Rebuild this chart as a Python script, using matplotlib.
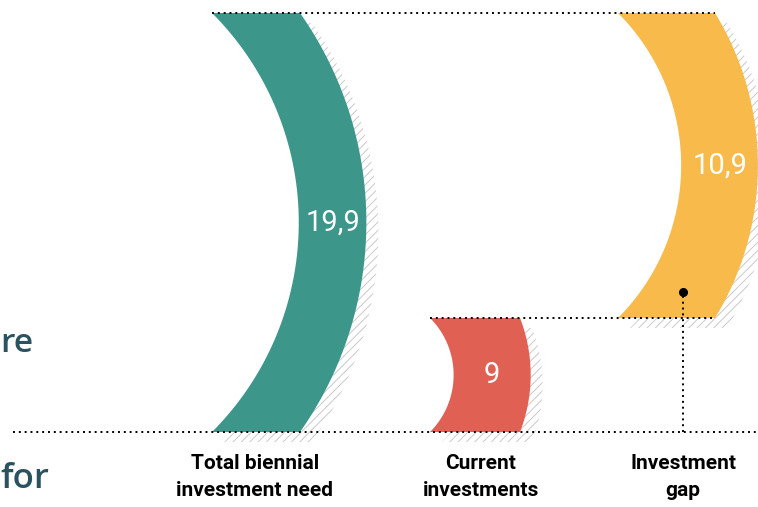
import numpy as np
import matplotlib
matplotlib.use("Agg")
import matplotlib.pyplot as plt
from matplotlib.patches import Polygon

# data
categories = ["Total biennial\ninvestment need", "Current\ninvestments", "Investment\ngap"]
values = [19.9, 9.0, 10.9]
bottoms = [0.0, 0.0, 9.0]
value_labels = ["19,9", "9", "10,9"]

# layout (pixels)
bar_left = [212, 430, 618]
corner_w = [88.0, 90.0, 97.0]
label_x = [255, 481, 683]
colors = ["#3c968a", "#e06054", "#f8ba4a"]
total = values[0]
span_px = 419.0
power = 1.64          # the graphic is not drawn to a linear scale
half_angle = np.radians(45)

def fwd(v):
    v = np.asarray(v, dtype=float)
    return np.sign(v) * np.abs(v / total) ** power * span_px

def inv(s):
    s = np.asarray(s, dtype=float)
    return np.sign(s) * np.abs(s / span_px) ** (1.0 / power) * total

def crescent(x0, w, vb, vt, dx=0.0, ds=0.0):
    s0, s1 = fwd(vb), fwd(vt)
    h = (s1 - s0) / 2.0
    yc = (s0 + s1) / 2.0
    r1 = h / np.sin(half_angle)
    cx = x0 - r1 * np.cos(half_angle)
    r2 = np.hypot(r1 * np.cos(half_angle) + w, h)
    phi = np.arcsin(h / r2)
    a_in = np.linspace(-half_angle, half_angle, 80)
    a_out = np.linspace(phi, -phi, 80)
    xs = np.concatenate([cx + r1 * np.cos(a_in), cx + r2 * np.cos(a_out)]) + dx
    ss = np.concatenate([yc + r1 * np.sin(a_in), yc + r2 * np.sin(a_out)]) + ds
    mid_x = cx + (r1 + r2) / 2.0
    return np.column_stack([xs, inv(ss)]), mid_x, yc

plt.rcParams["hatch.linewidth"] = 0.7
fig = plt.figure(figsize=(7.58, 5.07), dpi=100)
ax = fig.add_axes([0, 0, 1, 1])
ax.set_yscale("function", functions=(fwd, inv))
ax.set_xlim(0, 758)
ax.set_ylim(inv(-75), inv(432))
ax.axis("off")

narrow = ["Roboto", "DejaVu Sans"]
dotted = dict(color="black", lw=1.4, linestyle=(0, (1, 2.0)), dash_capstyle="butt", zorder=5)

for i in range(3):
    vb, vt = bottoms[i], bottoms[i] + values[i]
    shadow, _, _ = crescent(bar_left[i], corner_w[i], vb, vt, dx=12, ds=-10)
    ax.add_patch(Polygon(shadow, closed=True, facecolor="none", edgecolor="#c9c9c9",
                         hatch="////", linewidth=0, zorder=1))
    pts, mx, my = crescent(bar_left[i], corner_w[i], vb, vt)
    ax.add_patch(Polygon(pts, closed=True, facecolor=colors[i], edgecolor="none", zorder=2))
    ax.text(mx, inv(my), value_labels[i], color="white", fontsize=21, family=narrow,
            ha="center", va="center", zorder=6)
    ax.text(label_x[i], inv(-22), categories[i], color="black", fontsize=15,
            fontweight="bold", family=narrow, ha="center", va="top", linespacing=1.5)

# guide lines
ax.plot([13, 758], [0, 0], **dotted)
ax.plot([bar_left[0], bar_left[2] + corner_w[2]], [total, total], **dotted)
ax.plot([bar_left[1], bar_left[2] + corner_w[2]], [values[1], values[1]], **dotted)
gap_dot = inv(fwd(values[1]) + 26)
ax.plot([label_x[2], label_x[2]], [0, gap_dot], **dotted)
ax.plot([label_x[2]], [gap_dot], "o", color="black", ms=5.5, zorder=6)

# cut-off text from the page on the left
ax.text(0, inv(432 - 352), "re", color="#2b5260", fontsize=24, fontweight="semibold",
        family=["Open Sans", "DejaVu Sans"], ha="left", va="baseline")
ax.text(0, inv(432 - 488), "for", color="#2b5260", fontsize=25, fontweight="semibold",
        family=["Open Sans", "DejaVu Sans"], ha="left", va="baseline")

fig.savefig("out.png", dpi=100)
